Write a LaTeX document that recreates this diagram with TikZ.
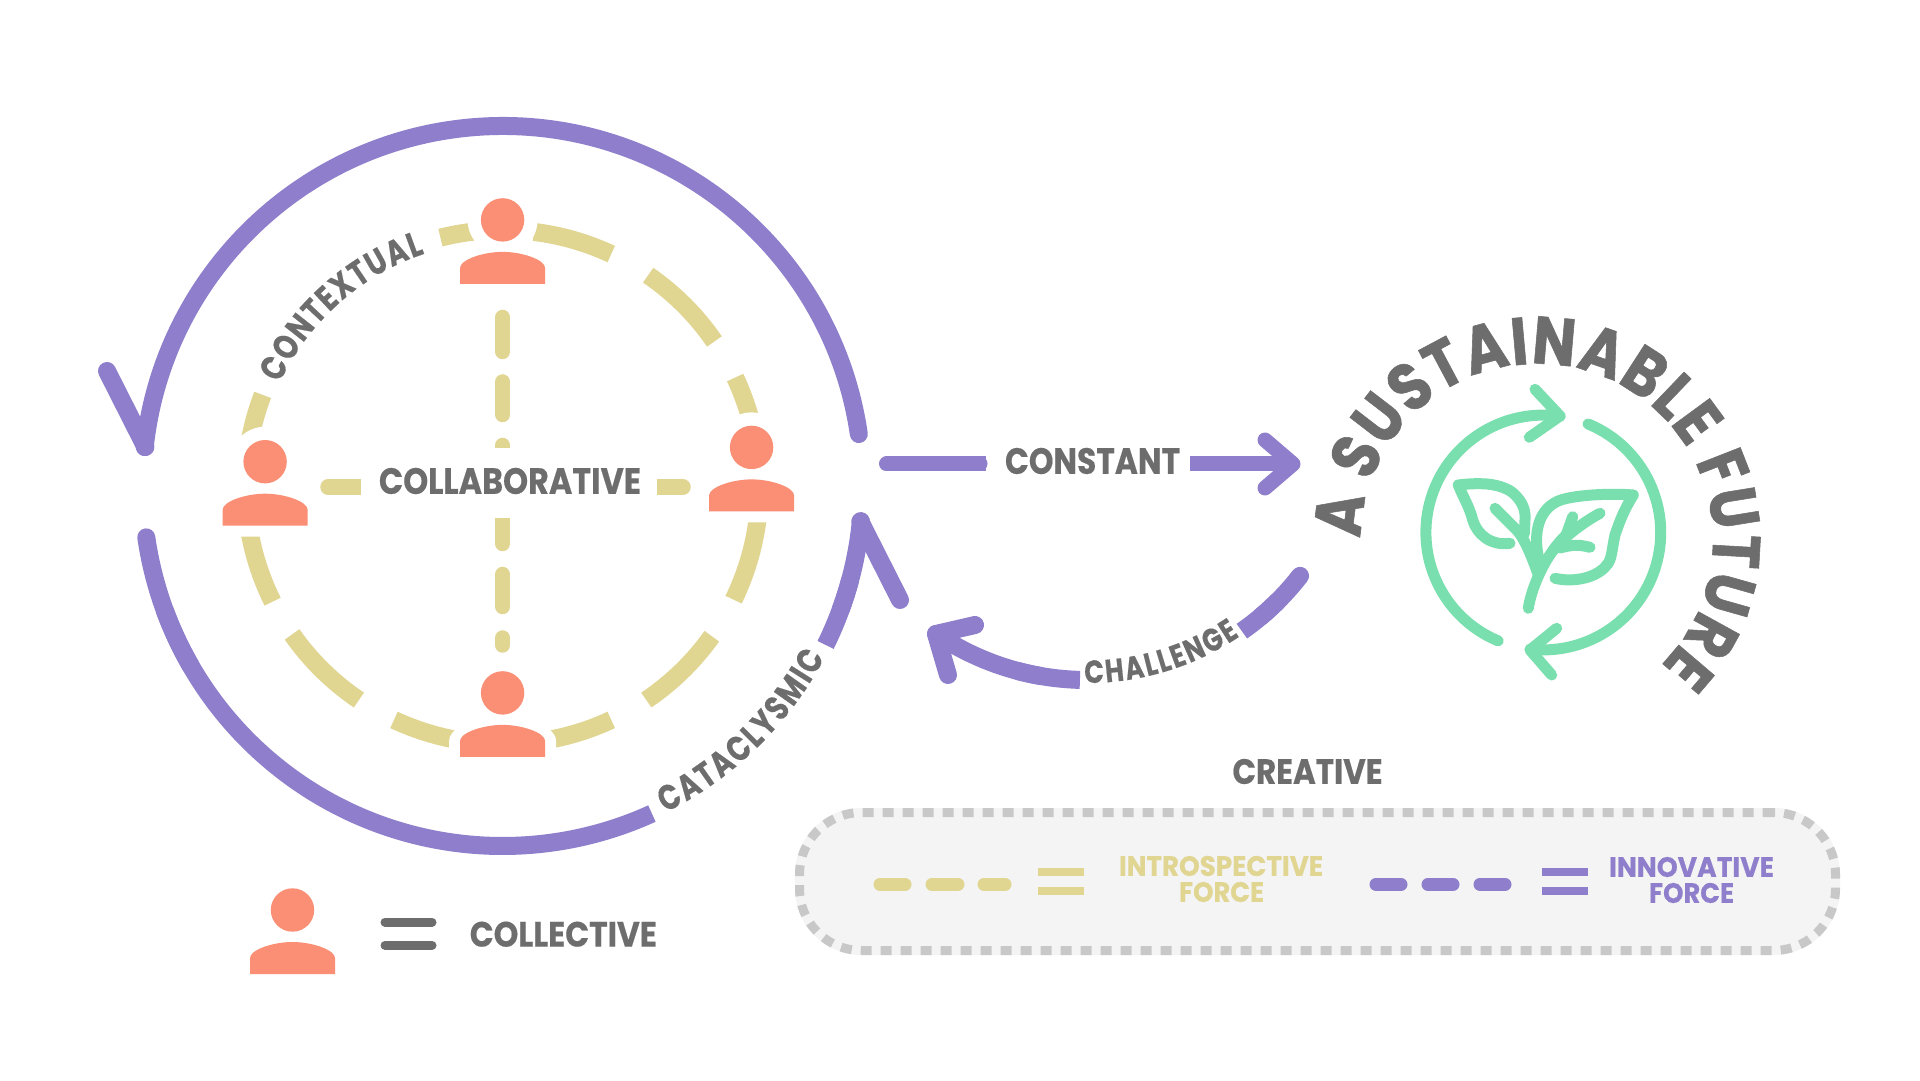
\documentclass[tikz,border=0pt]{standalone}
\usepackage{fontspec}
\usepackage{graphicx}
\usetikzlibrary{decorations.text}
\newfontfamily\cf{Poppins}[FakeStretch=0.8,FakeBold=0.4]
\newfontfamily\cg{Poppins}[FakeStretch=0.86,FakeBold=0.8]
\definecolor{gr}{HTML}{6D6D6D}
\definecolor{orng}{HTML}{FA8F75}
\definecolor{purp}{HTML}{8F7ECB}
\definecolor{yel}{HTML}{E1D592}
\definecolor{grn}{HTML}{7ADFAE}
\definecolor{panelfill}{HTML}{F4F4F4}
\definecolor{paneldash}{HTML}{C8C8C8}
\newcommand{\fitbox}[3]{\resizebox{#1pt}{#2pt}{\cf\bfseries #3}}
\def\fa{\fontsize{35}{35}\selectfont\cf\bfseries}
\def\fb{\fontsize{32}{32}\selectfont\cf\bfseries}
\def\fc{\fontsize{67}{67}\selectfont\cg\bfseries}
\tikzset{
  lbl/.style={inner sep=0pt,text=gr},
  purpleline/.style={draw=purp,line width=18pt},
  roundp/.style={purpleline,line cap=round,line join=round},
  yellowarc/.style={draw=yel,line width=18pt},
  yellowdash/.style={draw=yel,line width=15.5pt,line cap=round},
  greenline/.style={draw=grn,line width=11pt,line cap=round,line join=round},
  person/.pic={
    \fill[white] (0,0) circle (35);
    \draw[white,fill=white,line width=22pt,line join=round] (-42.5,-64) -- (-42.5,-48) .. controls (-36,-38) and (-18,-32) .. (0,-32) .. controls (18,-32) and (36,-38) .. (42.5,-48) -- (42.5,-64) -- cycle;
    \fill[orng] (0,0) circle (21.7);
    \fill[orng] (-42.5,-64) -- (-42.5,-48) .. controls (-42.5,-40) and (-20,-32) .. (0,-32) .. controls (20,-32) and (42.5,-40) .. (42.5,-48) -- (42.5,-64) -- cycle;
  },
  legendperson/.pic={
    \fill[orng] (0,0) circle (21.7);
    \fill[orng] (-42.5,-64) -- (-42.5,-48) .. controls (-42.5,-40) and (-20,-32) .. (0,-32) .. controls (20,-32) and (42.5,-40) .. (42.5,-48) -- (42.5,-64) -- cycle;
  }
}
\begin{document}
\begin{tikzpicture}[x=1pt,y=1pt]
\useasboundingbox (0,0) rectangle (1920,1080);
\fill[white] (0,0) rectangle (1920,1080);
\coordinate (outerC) at (502.6,594);
\coordinate (innerC) at (502.6,593);
\coordinate (chalC) at (1087,670);
\coordinate (susC) at (1537,540);
\coordinate (iconC) at (1543.3,547.5);

% inner yellow ring
\foreach \a/\b in {83/65,55.5/34.5,25.2/10,-5/-26,-35.5/-56,-65/-83,-97/-115,-124/-145,-153.5/-174,159/176,96/104}{
  \draw[yellowarc] (innerC) ++(\a:257) arc[start angle=\a,end angle=\b,radius=257];
}
% cross
\draw[yellowdash] (502.6,762.5) -- (502.6,728.5);
\draw[yellowdash] (502.6,698) -- (502.6,665.5);
\draw[yellowdash] (502.6,634.5) -- (502.6,600);
\draw[yellowdash] (502.6,570) -- (502.6,536.5);
\draw[yellowdash] (502.6,505.5) -- (502.6,473.5);
\draw[yellowdash] (502.6,442) -- (502.6,435);
\draw[yellowdash] (328,593) -- (370,593);
\draw[yellowdash] (645,593) -- (683,593);
\node[fill=white,minimum width=296pt,minimum height=70pt,inner sep=0pt] (collabbg) at (508.5,597) {};
\node[lbl] (collab) at (510,599) {\fitbox{262}{26}{COLLABORATIVE}};

% people
\pic at (502.6,860.1) {person};
\pic at (502.6,387.1) {person};
\pic at (265.1,618.3) {person};
\pic at (751.6,632.6) {person};

% outer purple ring
\draw[purpleline,line cap=round] (outerC) ++(8.3:360) arc[start angle=8.3,end angle=173.8,radius=360];
\draw[roundp] (145.4,633) -- (107,709);
\draw[purpleline,line cap=round] (outerC) ++(188.2:360) arc[start angle=188.2,end angle=210,radius=360];
\draw[purpleline] (outerC) ++(200:360) arc[start angle=200,end angle=294.5,radius=360];
\draw[purpleline] (outerC) ++(-26.2:360) arc[start angle=-26.2,end angle=-15,radius=360];
\draw[purpleline,line cap=round] (outerC) ++(-20:360) arc[start angle=-20,end angle=-5.6,radius=360];
\draw[roundp] (860.3,558.5) -- (900,480);

% curved labels on rings
\path[decorate,decoration={text along path,text color=gr,text={|\fa|CONTEXTUAL},text align={fit to path}}]
  (innerC) ++(155:246) arc[start angle=155,end angle=108.5,radius=246];
\path[decorate,decoration={text along path,text color=gr,text={|\fa|CATACLYSMIC},text align={fit to path}}]
  (outerC) ++(-63.5:365) arc[start angle=-63.5,end angle=-28,radius=365];

% constant arrow
\node[lbl] (constant) at (1092.5,619) {\fitbox{175}{26}{CONSTANT}};
\coordinate (conTip) at (1293,616);
\draw[purpleline,line width=15pt] (986,616) -- (885,616);
\draw[roundp,line width=15pt,line cap=round] (886.5,616) -- (980,616);
\draw[purpleline,line width=15pt] (1190,616) -- (conTip);
\draw[roundp,line width=15pt] (1265,640) -- (conTip) -- (1265,592);

% challenge arrow
\draw[purpleline] (chalC) ++(-45:270) arc[start angle=-45,end angle=-55,radius=270];
\draw[purpleline,line cap=round] (chalC) ++(-37.9:270) arc[start angle=-37.9,end angle=-50,radius=270];
\draw[purpleline] (chalC) ++(-91.5:270) arc[start angle=-91.5,end angle=-105,radius=270];
\draw[purpleline,line cap=round] (chalC) ++(-100:270) arc[start angle=-100,end angle=-124,radius=270];
\draw[roundp] (975,455) -- (936,446) -- (948,405);
\path[decorate,decoration={text along path,text color=gr,text={|\fb|CHALLENGE},text align={fit to path}}]
  (chalC) ++(-90.5:273) arc[start angle=-90.5,end angle=-56,radius=273];

% sustainable future
\path[decorate,decoration={text along path,text color=gr,text={|\fc|A SUSTAINABLE FUTURE},text align={fit to path}}]
  (susC) ++(179.5:176) arc[start angle=179.5,end angle=-45.5,radius=176];

% recycle icon
\draw[greenline] (iconC) ++(81.8:117.4) arc[start angle=81.8,end angle=247.4,radius=117.4];
\draw[greenline] (iconC) ++(67.6:117.4) arc[start angle=67.6,end angle=-96.5,radius=117.4];
\coordinate (tipTop) at (1560,664);
\coordinate (tipBot) at (1530,430);
\draw[greenline] (1535,690.7) -- (tipTop) -- (1529.3,642.7);
\draw[greenline] (1556.7,451.7) -- (tipBot) -- (1551.7,405);
% leaves
\draw[greenline] (1510,536.7) .. controls (1490,534) and (1477,546) .. (1472.7,560) .. controls (1470,572) and (1463,583) .. (1458.3,595) .. controls (1470,596.5) and (1480,596.5) .. (1486.7,596) .. controls (1500,595) and (1510,590) .. (1513.3,586.7) .. controls (1522,579) and (1526,570) .. (1525,560) -- (1524.3,546);
\draw[greenline] (1495,571.7) -- (1516.7,550) .. controls (1525,541) and (1533,520) .. (1538.3,505);
\draw[greenline] (1528.3,471.7) .. controls (1531,490) and (1542,515) .. (1553.3,530) .. controls (1560,539) and (1580,556) .. (1600,566.7);
\draw[greenline] (1553.3,530) .. controls (1560,539) and (1565,545) .. (1573,550);
\draw[greenline] (1572.7,563.3) -- (1565,541.7);
\draw[greenline] (1590,532.7) .. controls (1580,535) and (1575,536) .. (1560,532);
\draw[greenline] (1538.3,523.3) .. controls (1533,550) and (1540,570) .. (1556.7,578.3) .. controls (1570,585) and (1610,587) .. (1633.3,585) .. controls (1625,572) and (1620,560) .. (1615,545) .. controls (1612,532) and (1612,520) .. (1606.7,515) .. controls (1598,503) and (1575,497) .. (1555,501.7);

% collective legend
\pic at (292.5,170) {legendperson};
\draw[gr,line width=9pt,line cap=round] (385,158) -- (432,158);
\draw[gr,line width=9pt,line cap=round] (385,134.7) -- (432,134.7);
\node[lbl] (collective) at (563.3,145.8) {\fitbox{187}{25}{COLLECTIVE}};

% creative legend
\node[lbl] (creative) at (1307.5,308.5) {\fitbox{150}{25}{CREATIVE}};
\node[draw=paneldash,fill=panelfill,line width=9pt,dash pattern=on 11pt off 9pt,rounded corners=62pt,minimum width=1036pt,minimum height=138pt,inner sep=0pt,preaction={draw=panelfill,solid,line width=9pt}] (panel) at (1317.5,198.5) {};
\foreach \a/\b in {880/905,932/958,984/1005}{\draw[draw=yel,line width=13pt,line cap=round] (\a,195.7) -- (\b,195.7);}
\foreach \a/\b in {1376/1401,1428/1453,1480/1505}{\draw[draw=purp,line width=13pt,line cap=round] (\a,195.7) -- (\b,195.7);}
\foreach \y in {208.3,189.3}{
  \draw[draw=yel,line width=8pt] (1038,\y) -- (1083.7,\y);
  \draw[draw=purp,line width=8pt] (1541.7,\y) -- (1588,\y);
}
\node[lbl,text=yel] (introA) at (1221,214) {\fitbox{204}{20}{INTROSPECTIVE}};
\node[lbl,text=yel] (introB) at (1221.5,188) {\fitbox{85}{20}{FORCE}};
\node[lbl,text=purp] (innoA) at (1691.5,213) {\fitbox{165}{20}{INNOVATIVE}};
\node[lbl,text=purp] (innoB) at (1691.5,187) {\fitbox{85}{20}{FORCE}};
\end{tikzpicture}
\end{document}
